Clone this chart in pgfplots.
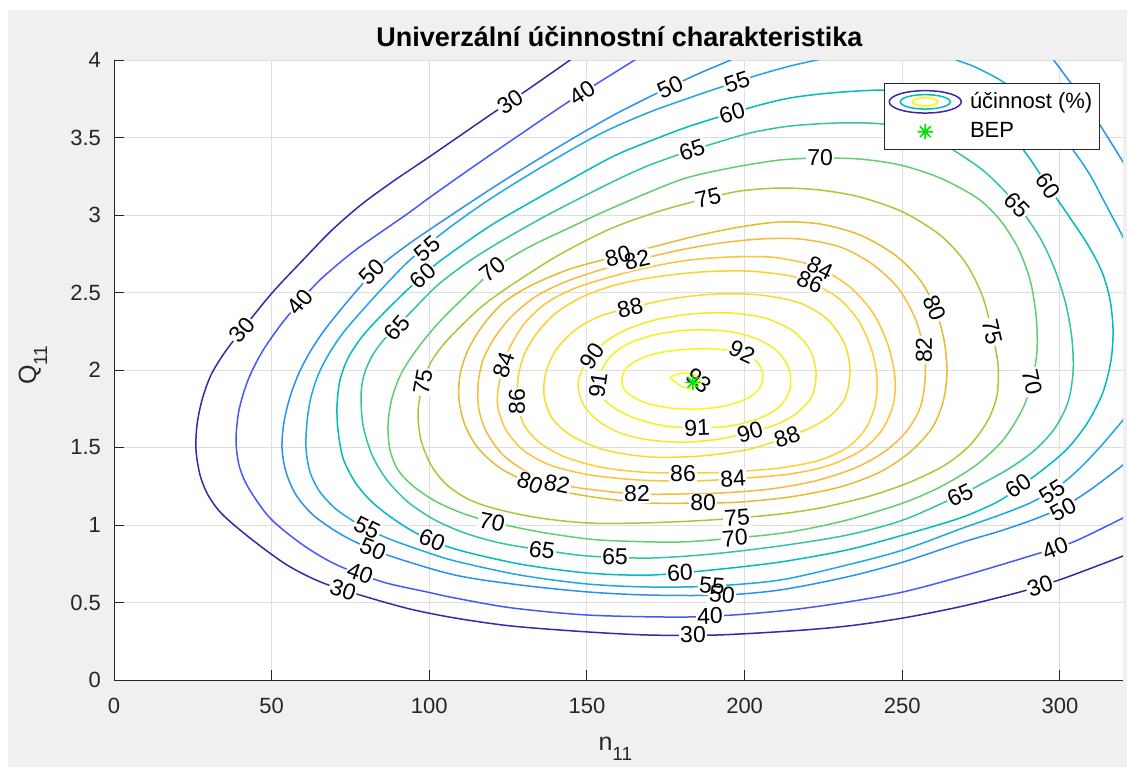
\documentclass[border=0pt]{standalone}
\usepackage{fontspec}
\setmainfont{Liberation Sans}
\usepackage{pgfplots}
\pgfplotsset{compat=1.18}
\definecolor{figbg}{rgb}{0.94,0.94,0.94}
\definecolor{axgray}{rgb}{0.15,0.15,0.15}
\definecolor{gridgray}{rgb}{0.87,0.87,0.87}
\definecolor{bepgreen}{rgb}{0.0,0.9,0.0}
\definecolor{c30}{rgb}{0.2422,0.1504,0.6603}
\definecolor{c40}{rgb}{0.2795,0.3447,0.9717}
\definecolor{c50}{rgb}{0.1687,0.5703,0.9359}
\definecolor{c55}{rgb}{0.1113,0.6635,0.8763}
\definecolor{c60}{rgb}{0.0067,0.7312,0.7660}
\definecolor{c65}{rgb}{0.1938,0.7758,0.6251}
\definecolor{c70}{rgb}{0.3909,0.8029,0.4354}
\definecolor{c75}{rgb}{0.6720,0.7793,0.2227}
\definecolor{c80}{rgb}{0.9035,0.7330,0.1774}
\definecolor{c82}{rgb}{0.9728,0.7298,0.2394}
\definecolor{c84}{rgb}{0.9970,0.7659,0.2199}
\definecolor{c86}{rgb}{0.9892,0.8136,0.1885}
\definecolor{c88}{rgb}{0.9676,0.8639,0.1643}
\definecolor{c90}{rgb}{0.9597,0.9135,0.1423}
\definecolor{c91}{rgb}{0.9628,0.9373,0.1265}
\definecolor{c92}{rgb}{0.9691,0.9606,0.1064}
\definecolor{c93}{rgb}{0.9769,0.9839,0.0805}
\pgfdeclareplotmark{matast}{%
  \pgfpathmoveto{\pgfqpoint{-\pgfplotmarksize}{0pt}}\pgfpathlineto{\pgfqpoint{\pgfplotmarksize}{0pt}}%
  \pgfpathmoveto{\pgfqpoint{0pt}{-\pgfplotmarksize}}\pgfpathlineto{\pgfqpoint{0pt}{\pgfplotmarksize}}%
  \pgfpathmoveto{\pgfqpoint{-0.7071\pgfplotmarksize}{-0.7071\pgfplotmarksize}}\pgfpathlineto{\pgfqpoint{0.7071\pgfplotmarksize}{0.7071\pgfplotmarksize}}%
  \pgfpathmoveto{\pgfqpoint{-0.7071\pgfplotmarksize}{0.7071\pgfplotmarksize}}\pgfpathlineto{\pgfqpoint{0.7071\pgfplotmarksize}{-0.7071\pgfplotmarksize}}%
  \pgfusepathqstroke}
\pgfplotsset{
  bep legend/.style={legend image code/.code={\draw[##1] plot coordinates {(18.25pt,0pt)};}},
  contour legend/.style={legend image code/.code={%
    \draw[c30, line width=0.75pt] (18.25pt,0pt) ellipse [x radius=18pt, y radius=5.6pt];
    \draw[c60, line width=0.75pt] (18.25pt,0pt) ellipse [x radius=12.5pt, y radius=3.6pt];
    \draw[c93, line width=0.9pt] (18.25pt,0pt) ellipse [x radius=6.3pt, y radius=2.1pt];}},
}
\newcommand{\clfont}{\fontsize{11.5}{13}\selectfont}
% single labels: white gap + text
\newcommand{\lbl}[4]{\node[rotate=#3, fill=white, inner sep=0.6pt, font=\clfont, text=black] at (axis cs:#1,#2) {#4};}
% overlapping label pairs: gaps first, then texts
\newcommand{\lblbg}[4]{\node[rotate=#3, fill=white, inner sep=0.6pt, font=\clfont] at (axis cs:#1,#2) {\phantom{#4}};}
\newcommand{\lblfg}[4]{\node[rotate=#3, inner sep=0.6pt, font=\clfont, text=black] at (axis cs:#1,#2) {#4};}
\newcommand{\pairlist}[1]{%
#1{159.85}{2.735}{15}{80}#1{165.87}{2.710}{13}{82}%
#1{131.94}{1.271}{-21}{80}#1{140.50}{1.265}{-12}{82}%
#1{189.66}{0.606}{-5}{55}#1{192.83}{0.548}{-5}{50}%
#1{297.50}{1.213}{32}{55}#1{300.99}{1.103}{28}{50}%
#1{223.92}{2.658}{-25}{84}#1{220.74}{2.568}{-22}{86}%
#1{151.60}{2.090}{55}{90}#1{153.51}{1.903}{82}{91}%
#1{80.24}{0.981}{-26}{55}#1{82.15}{0.845}{-22}{50}%
#1{197.59}{1.045}{4}{75}#1{196.96}{0.916}{5}{70}%
}
\begin{document}
\begin{tikzpicture}
\useasboundingbox (0,0) rectangle (563.5pt,383.5pt);
\fill[white] (0,0) rectangle (563.5pt,383.5pt);
\fill[figbg] (4pt,0) rectangle (563.5pt,378.5pt);
\begin{axis}[
  at={(57pt,43.5pt)}, anchor=south west,
  scale only axis, width=504.5pt, height=310pt,
  xmin=0, xmax=320, ymin=0, ymax=4,
  xtick={0,50,100,150,200,250,300},
  ytick={0,0.5,1,1.5,2,2.5,3,3.5,4},
  axis x line*=bottom, axis y line*=left,
  axis line style={-, draw=axgray, line width=0.5pt},
  tick align=inside, major tick length=5pt,
  major tick style={draw=axgray, line width=0.5pt},
  grid=major, major grid style={draw=gridgray, line width=0.5pt},
  axis background/.style={fill=white},
  ticklabel style={font=\fontsize{11}{13}\selectfont, text=axgray},
  /pgf/number format/assume math mode=true,
  xticklabel style={yshift=-5.5pt},
  yticklabel style={xshift=-3pt},
  every axis title/.style={at={(axis cs:160.3,4.084)}, anchor=base, font=\fontsize{13.5}{16}\selectfont\bfseries, text=black},
  title={Univerzální účinnostní charakteristika},
  every axis x label/.style={at={(axis cs:159,-0.455)}, anchor=base, font=\fontsize{12.5}{15}\selectfont, text=axgray},
  xlabel={n\raisebox{-5pt}{\fontsize{9.5}{11}\selectfont 11}},
  every axis y label/.style={at={(axis cs:-24.7,2.03)}, rotate=90, anchor=base, font=\fontsize{12.5}{15}\selectfont, text=axgray},
  ylabel={Q\raisebox{-5.5pt}{\fontsize{9.5}{11}\selectfont 11}},
  legend style={at={(axis cs:244.2,3.852)}, anchor=north west,
    draw=axgray, line width=0.5pt, fill=white,
    font=\fontsize{11}{13}\selectfont, text=black,
    inner xsep=2pt, inner ysep=2.9pt, row sep=2.6pt,
    nodes={inner sep=1.5pt},
    /tikz/every odd column/.append style={column sep=2.5pt}},
  legend cell align=left,
  clip bounding box=upper bound,
  every axis plot/.append style={line width=0.75pt},
]
\addlegendimage{contour legend}
\addlegendentry{účinnost (\%)}

% level 30
\addplot[c30, smooth, forget plot] coordinates {(147.80,4.045) (145.58,4.013) (130.99,3.806) (119.25,3.645) (99.91,3.374) (89.12,3.226) (78.66,3.071) (69.14,2.903) (59.94,2.710) (50.11,2.497) (40.60,2.258) (35.20,2.116) (30.76,1.968) (27.91,1.806) (26.32,1.645) (26.01,1.484) (27.28,1.323) (29.81,1.194) (34.25,1.071) (43.13,0.916) (54.87,0.742) (66.29,0.626) (80.24,0.535) (93.88,0.458) (108.15,0.400) (126.23,0.348) (150.33,0.310) (170.00,0.290) (190.61,0.290) (214.40,0.316) (232.48,0.348) (250.24,0.400) (269.27,0.477) (287.35,0.568) (300.67,0.652) (320.02,0.800) (325.41,0.845)};
% level 40
\addplot[c40, smooth, forget plot] coordinates {(168.41,4.045) (166.19,4.013) (153.51,3.852) (142.09,3.703) (128.13,3.510) (112.91,3.297) (99.91,3.110) (92.93,3.006) (77.07,2.781) (68.51,2.639) (63.11,2.535) (53.60,2.310) (46.94,2.116) (42.50,1.935) (39.65,1.742) (38.69,1.548) (39.65,1.387) (42.50,1.245) (49.48,1.045) (59.94,0.871) (70.73,0.742) (85.32,0.632) (99.27,0.568) (108.15,0.529) (126.23,0.465) (150.33,0.419) (178.88,0.406) (196.01,0.419) (214.40,0.452) (232.48,0.503) (250.24,0.568) (269.27,0.671) (291.47,0.806) (304.16,0.890) (320.02,1.045) (325.41,1.097)};
% level 50
\addplot[c50, smooth, forget plot] coordinates {(198.54,4.045) (196.96,4.013) (185.86,3.916) (176.34,3.826) (168.41,3.748) (157.31,3.632) (141.45,3.445) (122.42,3.206) (105.61,2.981) (93.88,2.819) (85.95,2.697) (80.56,2.594) (75.80,2.484) (71.04,2.368) (66.29,2.245) (62.16,2.116) (58.67,1.981) (55.82,1.826) (53.92,1.665) (53.28,1.497) (54.55,1.342) (57.72,1.194) (63.11,1.065) (70.73,0.955) (78.02,0.877) (88.49,0.794) (108.15,0.677) (128.77,0.613) (150.33,0.568) (170.00,0.548) (192.83,0.548) (211.23,0.581) (232.48,0.665) (250.24,0.761) (269.27,0.890) (281.00,0.961) (292.10,1.039) (300.99,1.116) (309.55,1.226) (320.02,1.387) (325.41,1.471)};
\addplot[c50, smooth, forget plot] coordinates {(295.28,4.065) (297.50,4.013) (303.21,3.858) (308.60,3.710) (314.30,3.529) (320.02,3.342) (323.82,3.213)};
% level 55
\addplot[c55, smooth, forget plot] coordinates {(228.67,4.045) (225.50,4.013) (214.40,3.961) (203.30,3.897) (191.56,3.819) (179.51,3.735) (168.41,3.652) (154.14,3.523) (136.70,3.323) (119.25,3.103) (104.98,2.897) (93.88,2.710) (88.49,2.600) (83.41,2.490) (78.02,2.368) (72.63,2.239) (68.51,2.116) (65.02,1.981) (62.48,1.826) (61.21,1.665) (60.89,1.497) (62.16,1.342) (65.33,1.213) (70.73,1.097) (78.02,1.000) (86.58,0.916) (97.05,0.839) (108.15,0.768) (128.77,0.677) (150.33,0.619) (170.00,0.600) (189.66,0.606) (211.23,0.645) (232.48,0.742) (250.24,0.839) (269.27,0.981) (281.00,1.065) (290.52,1.142) (298.45,1.232) (305.74,1.355) (312.72,1.503) (320.02,1.677) (323.82,1.774)};
\addplot[c55, smooth, forget plot] coordinates {(263.56,4.065) (265.78,4.013) (273.07,3.955) (281.00,3.871) (288.93,3.755) (296.86,3.600) (304.16,3.419) (309.55,3.258) (314.30,3.077) (320.02,2.858) (323.82,2.710)};
% level 60
\addplot[c60, smooth, forget plot] coordinates {(196.01,3.658) (204.89,3.710) (214.40,3.755) (227.09,3.787) (243.90,3.806) (258.80,3.781) (271.49,3.703) (281.00,3.587) (288.93,3.406) (296.23,3.187) (303.21,2.981) (308.91,2.806) (313.36,2.632) (315.89,2.452) (316.84,2.258) (316.21,2.065) (313.67,1.858) (308.91,1.665) (302.57,1.497) (295.28,1.368) (286.71,1.239) (280.05,1.148) (268.32,1.045) (250.24,0.935) (232.48,0.839) (211.23,0.761) (189.66,0.710) (170.00,0.677) (150.33,0.690) (128.77,0.748) (108.15,0.845) (97.05,0.935) (89.12,1.032) (81.83,1.148) (76.44,1.277) (72.63,1.432) (71.04,1.613) (70.73,1.774) (71.68,1.935) (74.22,2.077) (78.34,2.206) (83.41,2.323) (92.29,2.503) (98.00,2.606) (103.39,2.703) (119.25,2.929) (136.70,3.135) (157.31,3.368) (170.00,3.477) (182.68,3.574) (196.01,3.658)};
% level 65
\addplot[c65, smooth, forget plot] coordinates {(183.32,3.419) (189.66,3.458) (201.71,3.529) (214.40,3.574) (230.26,3.594) (243.90,3.587) (255.63,3.535) (265.15,3.432) (276.25,3.277) (286.40,3.065) (293.69,2.852) (298.45,2.645) (301.94,2.419) (303.84,2.194) (304.16,1.987) (302.57,1.794) (298.45,1.626) (292.10,1.484) (284.18,1.368) (276.25,1.277) (268.32,1.194) (250.24,1.032) (232.48,0.935) (211.23,0.865) (189.66,0.813) (170.00,0.787) (150.33,0.800) (135.74,0.839) (122.42,0.884) (111.32,0.948) (101.81,1.032) (93.25,1.148) (86.58,1.290) (81.83,1.452) (78.97,1.645) (78.34,1.839) (79.29,1.968) (81.51,2.077) (84.68,2.174) (89.44,2.277) (94.51,2.381) (103.39,2.561) (116.08,2.748) (135.11,2.974) (157.31,3.206) (170.00,3.323) (183.32,3.419)};
% level 70
\addplot[c70, smooth, forget plot] coordinates {(223.92,3.368) (236.60,3.361) (249.29,3.323) (261.97,3.239) (273.71,3.110) (281.00,2.968) (286.71,2.787) (290.52,2.581) (292.42,2.355) (292.74,2.129) (291.15,1.923) (287.98,1.742) (281.96,1.548) (273.07,1.381) (261.97,1.245) (250.24,1.142) (232.48,1.032) (214.40,0.955) (196.96,0.916) (178.88,0.890) (160.48,0.897) (150.33,0.910) (135.11,0.955) (119.89,1.019) (110.37,1.077) (101.81,1.155) (94.83,1.252) (90.07,1.355) (87.54,1.484) (86.90,1.645) (88.17,1.819) (91.34,1.987) (97.05,2.161) (104.35,2.335) (115.13,2.548) (120.20,2.645) (125.60,2.723) (133.52,2.813) (143.67,2.910) (157.31,3.039) (179.51,3.226) (195.37,3.303) (211.23,3.355) (223.92,3.368)};
% level 75
\addplot[c75, smooth, forget plot] coordinates {(188.39,3.110) (198.54,3.155) (211.23,3.174) (223.92,3.161) (236.60,3.116) (250.24,3.019) (261.97,2.871) (269.90,2.697) (275.30,2.484) (278.47,2.245) (280.37,2.032) (280.05,1.839) (277.20,1.677) (271.49,1.516) (263.56,1.387) (252.46,1.277) (239.77,1.187) (223.92,1.110) (211.23,1.071) (197.59,1.045) (183.95,1.026) (166.83,1.013) (150.33,1.013) (135.11,1.045) (122.42,1.097) (112.91,1.161) (105.61,1.258) (100.54,1.387) (97.37,1.548) (96.42,1.729) (98.00,1.923) (100.54,2.052) (104.35,2.161) (108.79,2.258) (116.08,2.400) (124.64,2.529) (140.50,2.735) (157.31,2.910) (173.17,3.026) (188.39,3.110)};
% level 80
\addplot[c80, smooth, forget plot] coordinates {(159.85,2.735) (173.17,2.806) (185.86,2.871) (198.54,2.923) (211.23,2.955) (223.92,2.942) (236.60,2.871) (247.70,2.742) (255.63,2.581) (260.39,2.400) (263.24,2.194) (264.19,1.987) (262.93,1.794) (259.44,1.626) (252.46,1.471) (242.95,1.342) (230.26,1.245) (214.40,1.181) (198.54,1.148) (186.81,1.142) (170.00,1.142) (154.14,1.174) (141.45,1.219) (131.94,1.271) (122.42,1.368) (115.44,1.497) (111.32,1.645) (109.42,1.806) (109.74,1.968) (112.27,2.129) (117.03,2.290) (123.38,2.432) (131.94,2.542) (144.62,2.652) (159.85,2.735)};
% level 82
\addplot[c82, smooth, forget plot] coordinates {(165.87,2.710) (179.51,2.774) (192.20,2.819) (204.89,2.845) (217.57,2.845) (230.26,2.794) (240.41,2.684) (248.65,2.529) (254.05,2.335) (256.90,2.129) (257.22,1.935) (255.63,1.755) (251.19,1.600) (244.21,1.471) (235.02,1.368) (222.33,1.284) (208.06,1.232) (192.20,1.206) (179.51,1.200) (165.87,1.200) (152.55,1.226) (140.50,1.265) (130.99,1.342) (123.38,1.452) (118.30,1.594) (115.76,1.742) (115.44,1.903) (117.03,2.065) (120.84,2.213) (126.23,2.348) (133.52,2.471) (143.04,2.568) (154.14,2.645) (165.87,2.710)};
% level 84
\addplot[c84, smooth, forget plot] coordinates {(123.06,2.000) (125.60,2.148) (130.04,2.297) (136.70,2.426) (145.58,2.523) (157.31,2.600) (170.00,2.665) (182.68,2.710) (195.37,2.729) (208.06,2.729) (217.57,2.697) (223.92,2.658) (233.43,2.535) (240.72,2.368) (245.48,2.161) (247.70,1.948) (247.07,1.774) (243.58,1.613) (237.24,1.484) (227.09,1.387) (214.40,1.329) (196.32,1.297) (182.68,1.284) (166.83,1.290) (150.97,1.323) (138.28,1.387) (129.72,1.484) (124.33,1.613) (121.79,1.755) (121.79,1.871) (123.06,2.000)};
% level 86
\addplot[c86, smooth, forget plot] coordinates {(127.82,1.794) (128.13,1.948) (130.04,2.097) (134.16,2.239) (140.18,2.368) (148.43,2.471) (158.90,2.548) (171.58,2.600) (185.86,2.632) (200.13,2.639) (212.81,2.613) (220.74,2.568) (229.62,2.465) (235.97,2.323) (240.09,2.142) (241.99,1.948) (241.36,1.774) (238.50,1.626) (232.79,1.503) (223.92,1.419) (211.23,1.368) (195.37,1.342) (180.46,1.335) (166.83,1.342) (154.14,1.374) (143.04,1.439) (135.11,1.529) (130.04,1.645) (127.82,1.794)};
% level 88
\addplot[c88, smooth, forget plot] coordinates {(163.65,2.400) (176.34,2.458) (190.61,2.490) (204.89,2.484) (217.57,2.432) (226.45,2.323) (231.84,2.161) (233.43,1.987) (231.84,1.819) (227.09,1.703) (220.74,1.626) (213.45,1.568) (201.71,1.490) (185.86,1.445) (170.00,1.439) (155.72,1.484) (145.26,1.574) (138.92,1.690) (136.38,1.839) (137.01,1.987) (140.18,2.129) (146.21,2.258) (154.14,2.348) (163.65,2.400)};
% level 90
\addplot[c90, smooth, forget plot] coordinates {(151.92,2.110) (156.68,2.194) (163.02,2.265) (171.58,2.323) (182.68,2.361) (195.37,2.368) (206.47,2.335) (215.35,2.252) (220.74,2.129) (222.65,1.981) (221.38,1.832) (216.62,1.723) (209.64,1.645) (201.71,1.600) (192.20,1.555) (181.10,1.535) (170.00,1.548) (160.48,1.594) (153.19,1.677) (148.75,1.781) (147.16,1.903) (148.75,2.013) (151.92,2.110)};
% level 91
\addplot[c91, smooth, forget plot] coordinates {(153.51,1.903) (155.09,2.019) (158.58,2.110) (164.29,2.181) (172.54,2.232) (182.68,2.258) (193.79,2.252) (203.30,2.206) (210.28,2.123) (214.09,2.006) (214.40,1.877) (211.23,1.768) (204.89,1.690) (195.37,1.639) (184.90,1.626) (174.76,1.639) (165.87,1.684) (159.21,1.748) (155.09,1.819) (153.51,1.903)};
% level 92
\addplot[c92, smooth, forget plot] coordinates {(199.18,2.110) (203.93,2.052) (205.84,1.968) (204.57,1.877) (200.45,1.813) (193.79,1.768) (185.22,1.748) (176.34,1.755) (168.73,1.787) (163.65,1.839) (161.43,1.890) (161.12,1.948) (162.70,2.019) (167.46,2.077) (174.12,2.116) (182.68,2.135) (191.56,2.135) (199.18,2.110)};
% level 93
\addplot[c93, smooth, forget plot] coordinates {(176.3,1.955) (180.5,1.981) (184.3,1.968) (185.9,1.923) (183.3,1.884) (180.5,1.890) (177.3,1.935) (176.3,1.955)};

% contour labels
\lbl{125.60}{3.729}{34}{30}
\lbl{148.43}{3.787}{33}{40}
\lbl{176.34}{3.826}{25}{50}
\lbl{197.59}{3.858}{18}{55}
\lbl{196.01}{3.658}{17}{60}
\lbl{183.32}{3.419}{18}{65}
\lbl{223.92}{3.368}{0}{70}
\lbl{188.39}{3.110}{13}{75}
\lbl{163.65}{2.400}{13}{88}
\lbl{199.18}{2.116}{-25}{92}
\lbl{260.39}{2.400}{-68}{80}
\lbl{256.90}{2.129}{90}{82}
\lbl{278.47}{2.245}{-77}{75}
\lbl{291.15}{1.923}{-78}{70}
\lbl{286.40}{3.065}{-46}{65}
\lbl{296.23}{3.187}{-56}{60}
\lbl{123.69}{2.032}{72}{84}
\lbl{127.82}{1.794}{90}{86}
\lbl{98.00}{1.923}{80}{75}
\lbl{120.20}{2.652}{38}{70}
\lbl{89.76}{2.271}{50}{65}
\lbl{98.00}{2.606}{42}{60}
\lbl{99.27}{2.781}{40}{55}
\lbl{81.83}{2.632}{45}{50}
\lbl{58.99}{2.439}{50}{40}
\lbl{40.60}{2.258}{50}{30}
\lbl{78.02}{0.687}{-20}{40}
\lbl{72.63}{0.584}{-18}{30}
\lbl{100.85}{0.903}{-22}{60}
\lbl{119.89}{1.019}{-12}{70}
\lbl{135.74}{0.839}{-8}{65}
\lbl{158.90}{0.794}{-1}{65}
\lbl{165.87}{1.200}{0}{82}
\lbl{179.51}{0.693}{3}{60}
\lbl{189.03}{0.413}{1}{40}
\lbl{183.63}{0.290}{0}{30}
\lbl{180.46}{1.335}{0}{86}
\lbl{196.32}{1.297}{4}{84}
\lbl{186.81}{1.142}{0}{80}
\lbl{184.90}{1.626}{2}{91}
\lbl{201.71}{1.600}{16}{90}
\lbl{213.45}{1.568}{20}{88}
\lbl{268.32}{1.194}{25}{65}
\lbl{286.71}{1.252}{35}{60}
\lbl{298.45}{0.852}{22}{40}
\lbl{293.69}{0.606}{18}{30}
\pairlist\lblbg
\pairlist\lblfg
\node[rotate=-40, inner sep=0.6pt, font=\clfont, text=black] at (axis cs:185.5,1.93) {93};

\addplot[only marks, mark=matast, mark size=3.8pt, color=bepgreen, line width=0.8pt, bep legend] coordinates {(183.6,1.92)};
\addlegendentry{BEP}
\end{axis}
\end{tikzpicture}
\end{document}
